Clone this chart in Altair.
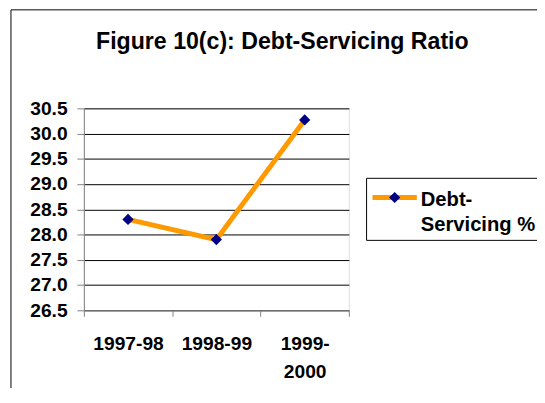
import altair as alt
import pandas as pd

categories = ["1997-98", "1998-99", "1999-2000"]
values = [28.3, 27.9, 30.27]
y_ticks = [26.5, 27.0, 27.5, 28.0, 28.5, 29.0, 29.5, 30.0, 30.5]
title_text = "Figure 10(c): Debt-Servicing Ratio"
legend_lines = ["Debt-", "Servicing %"]

LINE = "#FF9900"
MARK = "#000080"
FONT = "Liberation Sans"

df = pd.DataFrame({"period": categories, "value": values})

x_enc = alt.X(
    "period:N",
    sort=categories,
    scale=alt.Scale(type="band", paddingInner=0, paddingOuter=0),
    bandPosition=0.5,
    axis=alt.Axis(
        title=None, labelAngle=0, tickBand="extent", grid=False,
        domainColor="#808080", tickColor="#808080", tickSize=6,
        labelFont=FONT, labelFontSize=19.5, labelFontWeight="bold", labelColor="black",
        labelBaseline="top", labelPadding=19, labelLineHeight=28,
        labelExpr="datum.label == '1999-2000' ? ['1999-', '2000'] : datum.label",
    ),
)
y_enc = alt.Y(
    "value:Q",
    scale=alt.Scale(domain=[26.5, 30.5], nice=False, zero=False),
    axis=alt.Axis(
        title=None, values=y_ticks, format=".1f", grid=True, gridColor="black",
        gridOpacity=1, domainColor="#808080", tickColor="#808080", tickSize=7,
        labelFont=FONT, labelFontSize=19.5, labelFontWeight="bold", labelColor="black",
        labelPadding=10,
    ),
)

one = pd.DataFrame({"k": [0]})

border = alt.Chart(one).mark_rect(filled=False, stroke="black", strokeWidth=1).encode(
    x=alt.value(-74), x2=alt.value(700), y=alt.value(-100), y2=alt.value(600)
)

line = alt.Chart(df).mark_line(color=LINE, strokeWidth=5).encode(x=x_enc, y=y_enc)
points = alt.Chart(df).mark_point(shape="diamond", filled=True, color=MARK, size=130, opacity=1).encode(
    x=x_enc, y=y_enc
)

leg_box = alt.Chart(one).mark_rect(filled=False, stroke="black", strokeWidth=1).encode(
    x=alt.value(287), x2=alt.value(700), y=alt.value(71), y2=alt.value(134)
)
leg_line = alt.Chart(one).mark_rule(color=LINE, strokeWidth=5).encode(
    x=alt.value(293), x2=alt.value(338), y=alt.value(90.5)
)
leg_pt = alt.Chart(one).mark_point(shape="diamond", filled=True, color=MARK, size=130, opacity=1).encode(
    x=alt.value(315.5), y=alt.value(90.5)
)

def leg_label(txt, ypos):
    return alt.Chart(pd.DataFrame({"t": [txt]})).mark_text(
        align="left", baseline="alphabetic", font=FONT, fontSize=20.5, fontWeight="bold",
        color="black",
    ).encode(x=alt.value(342), y=alt.value(ypos), text="t:N")

leg_text1 = leg_label(legend_lines[0], 99)
leg_text2 = leg_label(legend_lines[1], 125)

chart = alt.layer(border, line, points, leg_box, leg_line, leg_pt, leg_text1, leg_text2).properties(
    width=269, height=205,
    title=alt.Title(
        title_text, font=FONT, fontSize=23.5, fontWeight="bold", color="black",
        anchor="middle", dx=67, offset=0, dy=64, baseline="alphabetic",
    ),
    autosize=alt.AutoSizeParams(type="none"),
    padding={"left": 77, "top": 99, "right": 191, "bottom": 76},
).configure_view(stroke=None).configure(background="white")

chart.save("out.html", embed_options={"renderer": "svg", "actions": False})
